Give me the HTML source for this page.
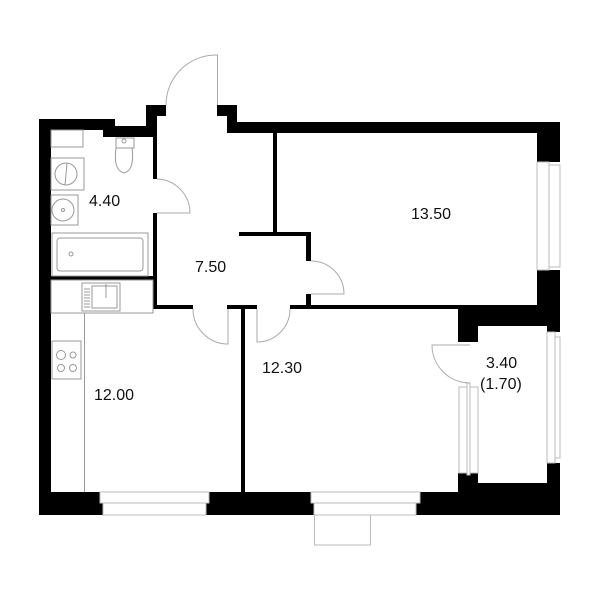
<!DOCTYPE html>
<html><head><meta charset="utf-8"><style>
html,body{margin:0;padding:0;background:#fff;}
svg{display:block}
text{font-family:"Liberation Sans",sans-serif;font-size:16px;fill:#111;}
</style></head><body>
<svg width="600" height="600" viewBox="0 0 600 600" xmlns="http://www.w3.org/2000/svg">
<g fill="#000">
<!-- left outer wall -->
<rect x="39" y="119" width="12" height="396"/>
<rect x="39" y="119" width="76" height="11"/>
<rect x="103" y="126" width="54" height="11"/>
<rect x="115" y="126" width="38" height="1"/>
<rect x="146" y="105" width="20" height="11"/>
<rect x="146" y="105" width="7" height="32"/>
<rect x="153" y="105" width="4" height="74"/>
<rect x="153" y="213" width="4" height="96"/>
<rect x="51" y="276" width="106" height="4"/>
<rect x="153" y="305" width="40" height="4"/>
<!-- right of front door -->
<rect x="217" y="105" width="20" height="11"/>
<rect x="227" y="105" width="10" height="28"/>
<rect x="227" y="122" width="333" height="11"/>
<rect x="537" y="122" width="23" height="40"/>
<rect x="537" y="270" width="23" height="37"/>
<rect x="458" y="305" width="102" height="21"/>
<rect x="458" y="305" width="20" height="37"/>
<rect x="547" y="305" width="13" height="27"/>
<rect x="547" y="463" width="13" height="52"/>
<rect x="458" y="473" width="20" height="42"/>
<rect x="458" y="483" width="102" height="32"/>
<!-- inner walls -->
<rect x="273" y="133" width="4" height="103"/>
<rect x="239" y="232" width="72" height="4"/>
<rect x="306" y="232" width="5" height="29"/>
<rect x="306" y="294" width="5" height="15"/>
<rect x="290" y="305" width="248" height="4"/>
<rect x="227" y="305" width="30" height="4"/>
<rect x="241" y="305" width="4" height="190"/>
<!-- bottom wall -->
<rect x="39" y="492" width="420" height="23"/>
</g>
<!-- windows (white with gray lines) -->
<g fill="#fff" stroke="#bbb" stroke-width="1">
<rect x="100" y="492" width="109" height="11"/>
<rect x="103" y="503" width="103" height="12"/>
<rect x="311" y="492" width="109" height="11"/>
<rect x="314" y="503" width="102" height="12"/>
<rect x="314.5" y="515" width="56" height="30"/>
<rect x="537" y="162" width="12" height="108"/>
<rect x="549" y="165" width="11" height="102"/>
<rect x="547" y="332" width="8" height="131"/>
<rect x="555" y="337" width="5" height="121"/>
<rect x="459" y="387" width="8" height="86"/>
<rect x="470" y="387" width="8" height="86"/>
<rect x="467" y="383" width="3" height="92"/>
</g>
<!-- doors -->
<g fill="none" stroke="#aaa" stroke-width="1">
<path d="M217.5 105 V55 A50 50 0 0 0 166 105"/>
<path d="M157 179 A34 34 0 0 1 190 213 H157"/>
<path d="M311 261 A33 33 0 0 1 344 294 H311"/>
<path d="M193 309 A35 35 0 0 0 228 344 V309"/>
<path d="M290 309 A33 33 0 0 1 257 342 V309"/>
<path d="M470 345 H432 A38 38 0 0 0 470 383"/>
</g>
<!-- fixtures -->
<g fill="none" stroke="#999" stroke-width="1">
<rect x="51" y="130" width="32" height="17"/>
<rect x="51" y="158" width="33" height="32"/>
<circle cx="66" cy="174" r="11"/>
<path d="M67 163 L65 185"/>
<rect x="51" y="195" width="27" height="30"/>
<circle cx="63" cy="210" r="11"/>
<circle cx="63" cy="210" r="1.5"/>
<rect x="116" y="138" width="18" height="10"/>
<circle cx="124" cy="141" r="2"/>
<path d="M119 148 H132 Q135 170 124 173 Q113 170 116 148 Z"/>
<rect x="52" y="233" width="96" height="43"/>
<rect x="57" y="238" width="86" height="33" rx="3"/>
<circle cx="71" cy="254" r="2"/>
<rect x="51" y="280" width="102" height="33"/>
<rect x="82" y="283" width="38" height="28"/>
<rect x="92" y="286" width="25" height="22"/>
<path d="M106 284 V298"/>
<path d="M84 289 H90 M84 292 H90 M84 295 H90 M84 298 H90 M84 301 H90 M84 304 H90 M84 307 H90"/>
<line x1="84.5" y1="313" x2="84.5" y2="492"/>
<rect x="52" y="341" width="29" height="38"/>
<circle cx="61" cy="355" r="4.5"/>
<circle cx="73" cy="355" r="3"/>
<circle cx="61" cy="368" r="3.5"/>
<circle cx="73" cy="368" r="3.5"/>
</g>
<text x="89" y="206">4.40</text>
<text x="195" y="272">7.50</text>
<text x="411" y="219">13.50</text>
<text x="262" y="373">12.30</text>
<text x="94" y="400">12.00</text>
<text x="486" y="368">3.40</text>
<text x="480" y="389">(1.70)</text>
</svg>
</body></html>
